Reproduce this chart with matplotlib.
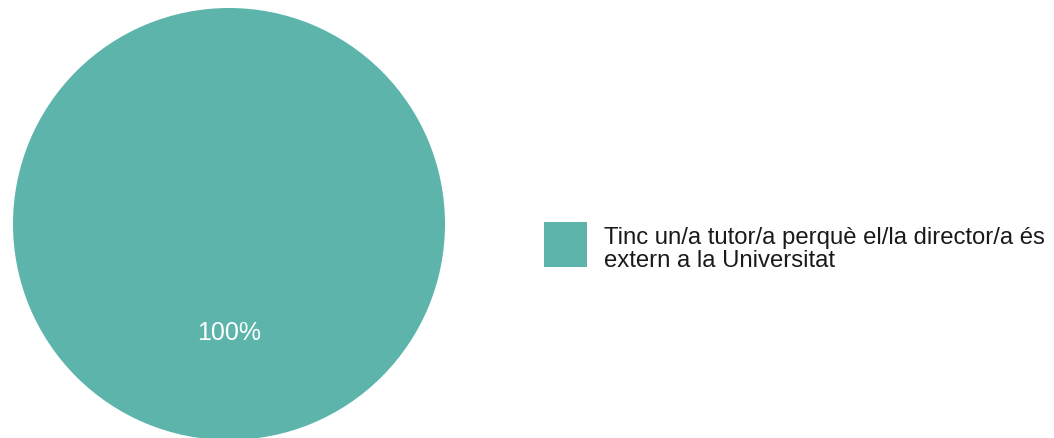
import matplotlib.pyplot as plt
from matplotlib.patches import Rectangle

plt.rcParams['font.family'] = ['Liberation Sans', 'DejaVu Sans']

# data
labels = ['Tinc un/a tutor/a perquè el/la director/a és\nextern a la Universitat']
values = [100]
colors = ['#5cb4ab']

W, H = 1054, 439
fig = plt.figure(figsize=(W / 100, H / 100), dpi=100)
# pie axes: centre (229, 225) px, radius 216 px
cx, cy, r = 229, 225, 216
ax = fig.add_axes([(cx - r) / W, (H - cy - r) / H, 2 * r / W, 2 * r / H])
wedges, texts, autotexts = ax.pie(values, colors=colors, startangle=90,
                                  autopct='%1.0f%%', pctdistance=0.5,
                                  textprops=dict(color='white', fontsize=18))
ax.set_xlim(-1, 1)
ax.set_ylim(-1, 1)
ax.set_aspect('equal')
ax.axis('off')

# legend drawn by hand: swatch + wrapped label
for i, (lab, col) in enumerate(zip(labels, colors)):
    fig.add_artist(Rectangle((544 / W, (H - 268) / H), 43 / W, 45 / H,
                             transform=fig.transFigure, facecolor=col, edgecolor='none'))
    # va='baseline' pins the last line's baseline
    fig.text(604 / W, (H - 267) / H, lab, fontsize=17.2, va='baseline', ha='left',
             linespacing=1.06, color='#1a1a1a')

fig.savefig('out.png', dpi=100)
